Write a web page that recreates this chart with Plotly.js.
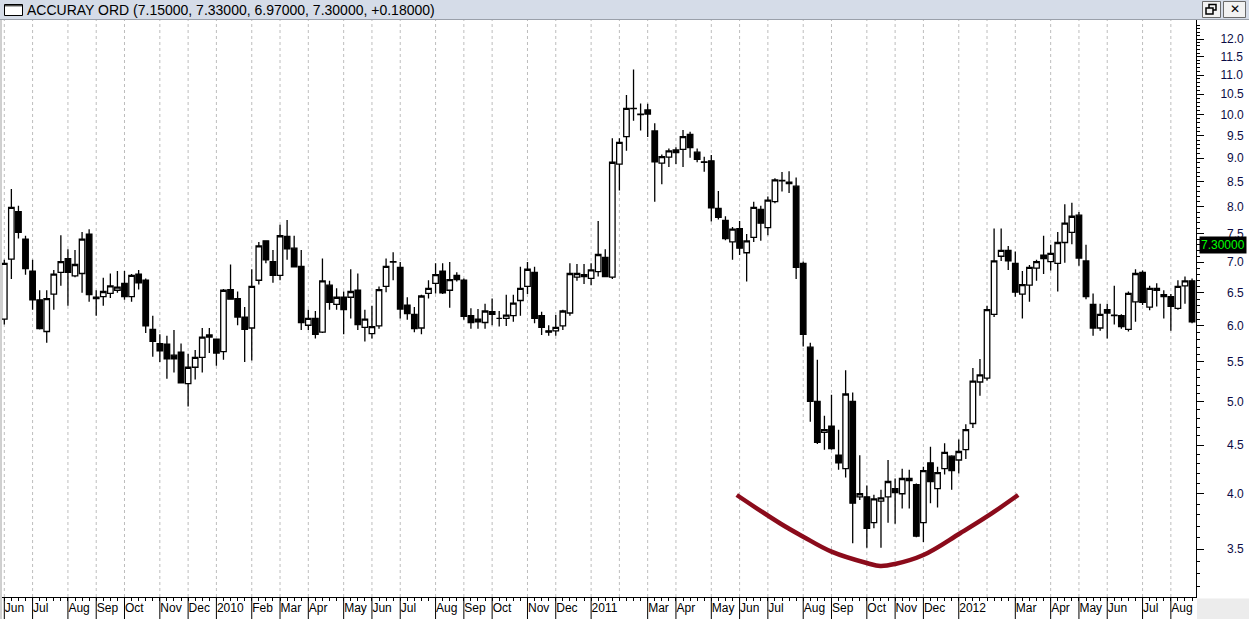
<!DOCTYPE html>
<html><head><meta charset="utf-8">
<script src="https://cdn.plot.ly/plotly-3.0.1.min.js"></script>
<style>html,body{margin:0;padding:0;background:#fff;overflow:hidden}#chart{width:1249px;height:619px}</style>
</head><body><div id="chart"></div>
<script>
// Weekly bars, Jun 2009 - Aug 2012 (bar index = week number)
const openP = [6.10,7.05,7.91,7.40,6.85,6.39,5.92,6.48,6.83,7.06, 6.77,6.81,7.49,6.43,6.44,6.49,6.54,6.65,6.44,6.80,
 6.70,5.95,5.75,5.74,5.59,5.63,5.22,5.43,5.56,5.87, 5.81,5.64,6.55,6.41,6.13,5.97,6.70,7.37,7.01,6.78,
 7.45,7.24,6.93,6.01,6.11,5.91,6.62,6.32,6.43,6.43, 6.54,5.98,5.89,6.00,6.60,7.01,6.91,6.31,6.17,5.97,
 6.49,6.65,6.85,6.54,6.78,6.70,6.15,6.10,6.05,6.21, 6.11,6.11,6.15,6.38,6.60,6.83,6.15,5.93,5.93,6.00,
 6.19,6.75,6.79,6.73,6.84,7.08,6.75,8.87,9.48,10.14, 10.01,10.11,9.61,8.89,9.02,9.18,9.19,9.53,9.13,8.92,
 8.94,7.97,7.74,7.35,7.59,7.16,7.43,7.95,7.61,8.10, 8.52,8.49,8.41,6.98,5.70,5.00,4.64,4.71,4.39,4.25,
 5.00,3.97,3.97,3.73,3.93,3.97,4.05,4.00,4.13,4.09, 3.73,4.31,4.05,4.25,4.38,4.34,4.45,4.74,5.24,5.29,
 6.17,7.10,7.20,6.98,6.48,6.62,6.90,7.12,7.01,6.98, 7.34,7.52,7.84,7.02,6.32,5.97,6.24,6.15,6.15,5.95,
 6.36,6.83,6.28,6.57,6.47,6.44,6.26,6.61,6.69];
const highP = [7.04,8.35,8.02,7.46,7.04,6.54,6.54,6.87,7.47,7.22, 7.21,7.53,7.58,6.54,6.74,6.81,6.85,6.85,6.80,6.87,
 6.73,6.15,5.88,5.86,5.94,5.75,5.61,5.66,5.97,5.97, 5.82,6.56,6.96,6.52,6.28,6.88,7.35,7.38,7.21,7.66,
 7.75,7.46,7.21,6.24,6.22,7.06,6.69,6.57,6.52,6.88, 6.81,6.24,6.30,6.60,7.06,7.17,7.00,6.43,6.28,6.47,
 6.70,6.98,6.98,7.00,6.83,6.73,6.26,6.25,6.33,6.41, 6.22,6.47,6.47,6.92,7.00,6.92,6.21,6.01,6.16,6.24,
 6.98,6.97,6.97,6.98,7.73,7.22,9.44,9.44,10.48,11.15, 10.27,10.26,9.79,9.08,9.21,9.24,9.63,9.59,9.21,9.03,
 9.07,8.31,7.82,7.62,7.73,7.49,8.10,8.02,8.20,8.57, 8.70,8.72,8.59,7.01,5.76,5.53,4.83,5.08,4.67,5.39,
 5.11,4.39,4.08,3.99,4.04,4.34,4.15,4.25,4.24,4.10, 4.27,4.48,4.27,4.52,4.39,4.56,4.73,5.42,5.54,6.30,
 7.59,7.59,7.28,7.18,6.85,6.95,7.04,7.46,7.30,7.53, 8.05,8.08,7.90,7.30,6.49,6.33,6.33,6.61,6.17,6.52,
 6.88,6.86,6.61,6.65,6.54,6.48,6.70,6.76,6.73];
const lowP = [6.02,6.72,7.41,6.79,6.24,5.95,5.76,6.24,6.61,6.30, 6.75,6.50,6.36,6.15,6.30,6.42,6.50,6.39,6.36,6.55,
 5.90,5.57,5.50,5.28,5.36,5.22,4.94,5.27,5.36,5.62, 5.45,5.53,6.39,6.01,5.50,5.52,6.63,6.98,6.66,6.70,
 7.04,6.91,5.94,5.94,5.82,5.90,6.24,6.24,5.88,6.11, 5.94,5.78,5.82,5.96,6.51,6.70,6.11,6.09,5.91,5.88,
 6.41,6.49,6.48,6.27,6.68,6.09,5.96,5.96,5.96,6.01, 5.99,6.00,6.06,6.15,6.48,6.04,5.87,5.86,5.86,5.94,
 6.15,6.69,6.64,6.62,6.76,6.75,6.72,8.32,9.16,9.85, 9.62,9.47,8.10,8.45,8.81,8.87,8.81,9.01,8.91,8.71,
 7.72,7.76,7.38,7.04,7.12,6.68,7.35,7.37,7.47,8.07, 8.30,8.27,6.72,5.71,4.76,4.51,4.45,4.45,4.24,4.16,
 3.55,3.94,3.51,3.68,3.51,3.73,3.72,3.86,3.86,3.60, 3.56,3.91,3.87,4.19,4.04,4.20,4.35,4.69,5.07,5.26,
 6.13,7.02,6.87,6.44,6.11,6.36,6.69,6.80,6.86,6.52, 6.99,7.31,6.94,6.40,5.86,5.93,5.82,6.02,5.96,5.92,
 6.06,6.31,6.23,6.29,6.11,5.93,6.24,6.33,6.04];
const closeP = [6.98,7.99,7.52,6.89,6.39,5.96,6.41,6.80,7.01,6.83, 6.96,7.40,6.47,6.41,6.52,6.61,6.59,6.44,6.78,6.66,
 6.00,5.78,5.65,5.54,5.54,5.23,5.43,5.56,5.84,5.84, 5.62,6.54,6.40,6.13,5.95,6.60,7.28,7.04,6.78,7.46,
 7.23,6.92,6.05,6.11,5.88,6.69,6.35,6.43,6.24,6.52, 6.02,6.10,5.99,6.55,6.93,7.00,6.25,6.18,5.96,6.45,
 6.57,6.79,6.50,6.71,6.71,6.14,6.05,6.06,6.22,6.17, 6.11,6.16,6.34,6.57,6.88,6.11,5.98,5.91,5.98,6.22,
 6.81,6.81,6.76,6.87,7.13,6.76,8.91,9.35,10.15,10.15, 10.00,10.01,8.92,9.03,9.16,9.12,9.48,9.23,8.97,8.91,
 7.98,7.80,7.41,7.58,7.24,7.37,7.99,7.69,8.13,8.54, 8.53,8.46,6.91,5.88,5.00,4.53,4.67,4.46,4.31,5.09,
 3.91,4.00,3.68,3.95,3.96,4.12,4.01,4.15,4.15,3.61, 4.23,4.12,4.21,4.42,4.23,4.43,4.67,5.25,5.33,6.24,
 7.02,7.20,7.02,6.51,6.63,6.91,7.01,7.06,7.15,7.34, 7.69,7.82,7.07,6.44,5.97,6.17,6.19,6.16,5.99,6.49,
 6.81,6.35,6.57,6.54,6.44,6.29,6.60,6.69,6.06];

// first weekly bar of each month (gridlines)
const monthStartIdx = [0,4,9,13,17,22,26,30,35,39,43,48,52,56,61,65,69,74,78,83,87,91,95,100,104,108,113,117,122,126,130,135,139,143,148,152,156,161,165];
// labelled months on the time axis
const labelIdx = [0,4,9,13,17,22,26,30,35,39,43,48,52,56,61,65,69,74,78,83,91,95,100,104,108,113,117,122,126,130,135,143,148,152,156,161,165];
const labelText = ['Jun','Jul','Aug','Sep','Oct','Nov','Dec','2010','Feb','Mar','Apr','May','Jun','Jul','Aug','Sep','Oct','Nov','Dec','2011','Mar','Apr','May','Jun','Jul','Aug','Sep','Oct','Nov','Dec','2012','Mar','Apr','May','Jun','Jul','Aug'];

// price axis ticks
const yTickVals = [3.5,4.0,4.5,5.0,5.5,6.0,6.5,7.0,7.5,8.0,8.5,9.0,9.5,10.0,10.5,11.0,11.5,12.0];
const yTickText = ['\u20073.5','\u20074.0','\u20074.5','\u20075.0','\u20075.5','\u20076.0','\u20076.5','\u20077.0','\u20077.5','\u20078.0','\u20078.5','\u20079.0','\u20079.5','10.0','10.5','11.0','11.5','12.0'];

// hand-drawn rounded-bottom curve (bar index, price)
const curveIdx = [103.6,109.7,113.0,117.0,122.1,123.9,126.0,130.0,135.2,138.95,143.4];
const curveVal = [3.988,3.725,3.606,3.478,3.382,3.360,3.376,3.450,3.636,3.784,3.988];

const titleText = 'ACCURAY ORD (7.15000, 7.33000, 6.97000, 7.30000, +0.18000)';
const lastPrice = 7.30;

const W = 1249, H = 619, L = 2, R = 53, T = 20, B = 22;
const PW = W - L - R, PH = H - T - B;
const px = v => (v - L) / PW;
const py = v => (H - B - v) / PH;

const weekIdx = openP.map((_, i) => i);
const yMinor = [];
for (let k = 32; k <= 125; k++) { if (k % 5 !== 0) yMinor.push(k / 10); }

const traces = [
  {
    type: 'candlestick', x: weekIdx, open: openP, high: highP, low: lowP, close: closeP,
    increasing: { line: { color: '#000', width: 1.3 }, fillcolor: '#fff' },
    decreasing: { line: { color: '#000', width: 1.3 }, fillcolor: '#000' },
    whiskerwidth: 0, hoverinfo: 'skip', showlegend: false
  },
  {
    type: 'scatter', mode: 'lines', x: curveIdx, y: curveVal,
    line: { color: '#8b0b1b', width: 4.5, shape: 'spline', smoothing: 1.1 },
    hoverinfo: 'skip', showlegend: false
  }
];

const shapes = [];
// month gridlines
monthStartIdx.forEach(i => shapes.push({ type: 'line', xref: 'x', yref: 'paper', x0: i, x1: i, y0: 0, y1: 1,
  line: { color: '#bdbdbd', width: 1, dash: '3px,3px' }, layer: 'below' }));
// month separators under the axis
labelIdx.forEach(i => shapes.push({ type: 'line', xref: 'x', yref: 'paper', x0: i, x1: i, y0: 0, y1: py(619),
  line: { color: '#000', width: 1 } }));
// window title bar
shapes.push({ type: 'rect', xref: 'paper', yref: 'paper', x0: px(0), x1: px(W), y0: py(19.5), y1: py(0),
  fillcolor: '#d5dce8', line: { width: 0 } });
shapes.push({ type: 'line', xref: 'paper', yref: 'paper', x0: px(0), x1: px(W), y0: py(19.5), y1: py(19.5),
  line: { color: '#9aa0aa', width: 1 } });
// window icon
shapes.push({ type: 'rect', xref: 'paper', yref: 'paper', x0: px(4.5), x1: px(22.5), y0: py(15.5), y1: py(4.5),
  fillcolor: '#fff', line: { color: '#000', width: 1 } });
shapes.push({ type: 'line', xref: 'paper', yref: 'paper', x0: px(4.5), x1: px(22.5), y0: py(5.8), y1: py(5.8),
  line: { color: '#000', width: 1 } });
// restore / close buttons
shapes.push({ type: 'rect', xref: 'paper', yref: 'paper', x0: px(1202.5), x1: px(1220.5), y0: py(17.5), y1: py(1.5),
  fillcolor: '#f2f2f2', line: { color: '#6a6a6a', width: 1 } });
shapes.push({ type: 'rect', xref: 'paper', yref: 'paper', x0: px(1223.5), x1: px(1245.5), y0: py(17.5), y1: py(1.5),
  fillcolor: '#f2f2f2', line: { color: '#6a6a6a', width: 1 } });
shapes.push({ type: 'rect', xref: 'paper', yref: 'paper', x0: px(1209), x1: px(1216), y0: py(10), y1: py(4.5),
  fillcolor: 'rgba(0,0,0,0)', line: { color: '#000', width: 1.5 } });
shapes.push({ type: 'rect', xref: 'paper', yref: 'paper', x0: px(1206), x1: px(1213), y0: py(14), y1: py(8),
  fillcolor: '#f2f2f2', line: { color: '#000', width: 1.5 } });
// bottom-right corner panel
shapes.push({ type: 'rect', xref: 'paper', yref: 'paper', x0: px(1197), x1: px(W), y0: py(H), y1: py(598.5),
  fillcolor: '#ececec', line: { width: 0 } });
// left frame
shapes.push({ type: 'line', xref: 'paper', yref: 'paper', x0: px(1), x1: px(1), y0: py(H), y1: py(20),
  line: { color: '#a0a0a0', width: 1 } });

const annotations = [
  { xref: 'paper', yref: 'paper', x: px(25), y: py(10), xanchor: 'left', yanchor: 'middle', showarrow: false,
    text: titleText, font: { family: 'Arial, Liberation Sans, sans-serif', size: 14, color: '#000' } },
  { xref: 'paper', yref: 'paper', x: px(1234.5), y: py(9.5), xanchor: 'center', yanchor: 'middle', showarrow: false,
    text: '<b>\u2715</b>', font: { family: 'DejaVu Sans, sans-serif', size: 12, color: '#000' } },
  { xref: 'paper', yref: 'y', x: px(1198.5), y: Math.log10(lastPrice), xanchor: 'left', yanchor: 'middle', showarrow: false,
    text: lastPrice.toFixed(5), bgcolor: '#000', borderpad: 1,
    font: { family: 'Arial, Liberation Sans, sans-serif', size: 12, color: '#00ff00' } }
];

const layout = {
  width: W, height: H,
  margin: { l: L, r: R, t: T, b: B, pad: 0 },
  paper_bgcolor: '#fff', plot_bgcolor: '#fff',
  showlegend: false, boxgap: 0.22, boxgroupgap: 0,
  xaxis: {
    type: 'linear', range: [-(4.3 - L) / 7.07, -(4.3 - L) / 7.07 + PW / 7.07],
    rangeslider: { visible: false }, fixedrange: true,
    showgrid: false, zeroline: false, showline: true, linecolor: '#000', linewidth: 1,
    tickmode: 'array', tickvals: labelIdx, ticktext: labelText, ticks: '', tickangle: 0,
    ticklabelposition: 'outside right', automargin: false,
    minor: { dtick: 1, tick0: 0, ticks: 'outside', ticklen: 3, tickcolor: '#000', tickwidth: 1, showgrid: false },
    tickfont: { family: 'Arial, Liberation Sans, sans-serif', size: 12, color: '#000' }
  },
  yaxis: {
    type: 'log', side: 'right', range: [Math.log10(3.117), Math.log10(12.564)], fixedrange: true,
    showgrid: false, zeroline: false, showline: true, linecolor: '#000', linewidth: 1,
    tickmode: 'array', tickvals: yTickVals, ticktext: yTickText, ticks: 'outside', ticklen: 7, tickcolor: '#000',
    ticklabelstandoff: 14, automargin: false,
    minor: { tickmode: 'array', tickvals: yMinor, ticks: 'outside', ticklen: 3, tickcolor: '#000', showgrid: false },
    tickfont: { family: 'Arial, Liberation Sans, sans-serif', size: 12, color: '#0b0b45' }
  },
  shapes: shapes, annotations: annotations
};

Plotly.newPlot('chart', traces, layout, { displayModeBar: false, staticPlot: true });
</script></body></html>
